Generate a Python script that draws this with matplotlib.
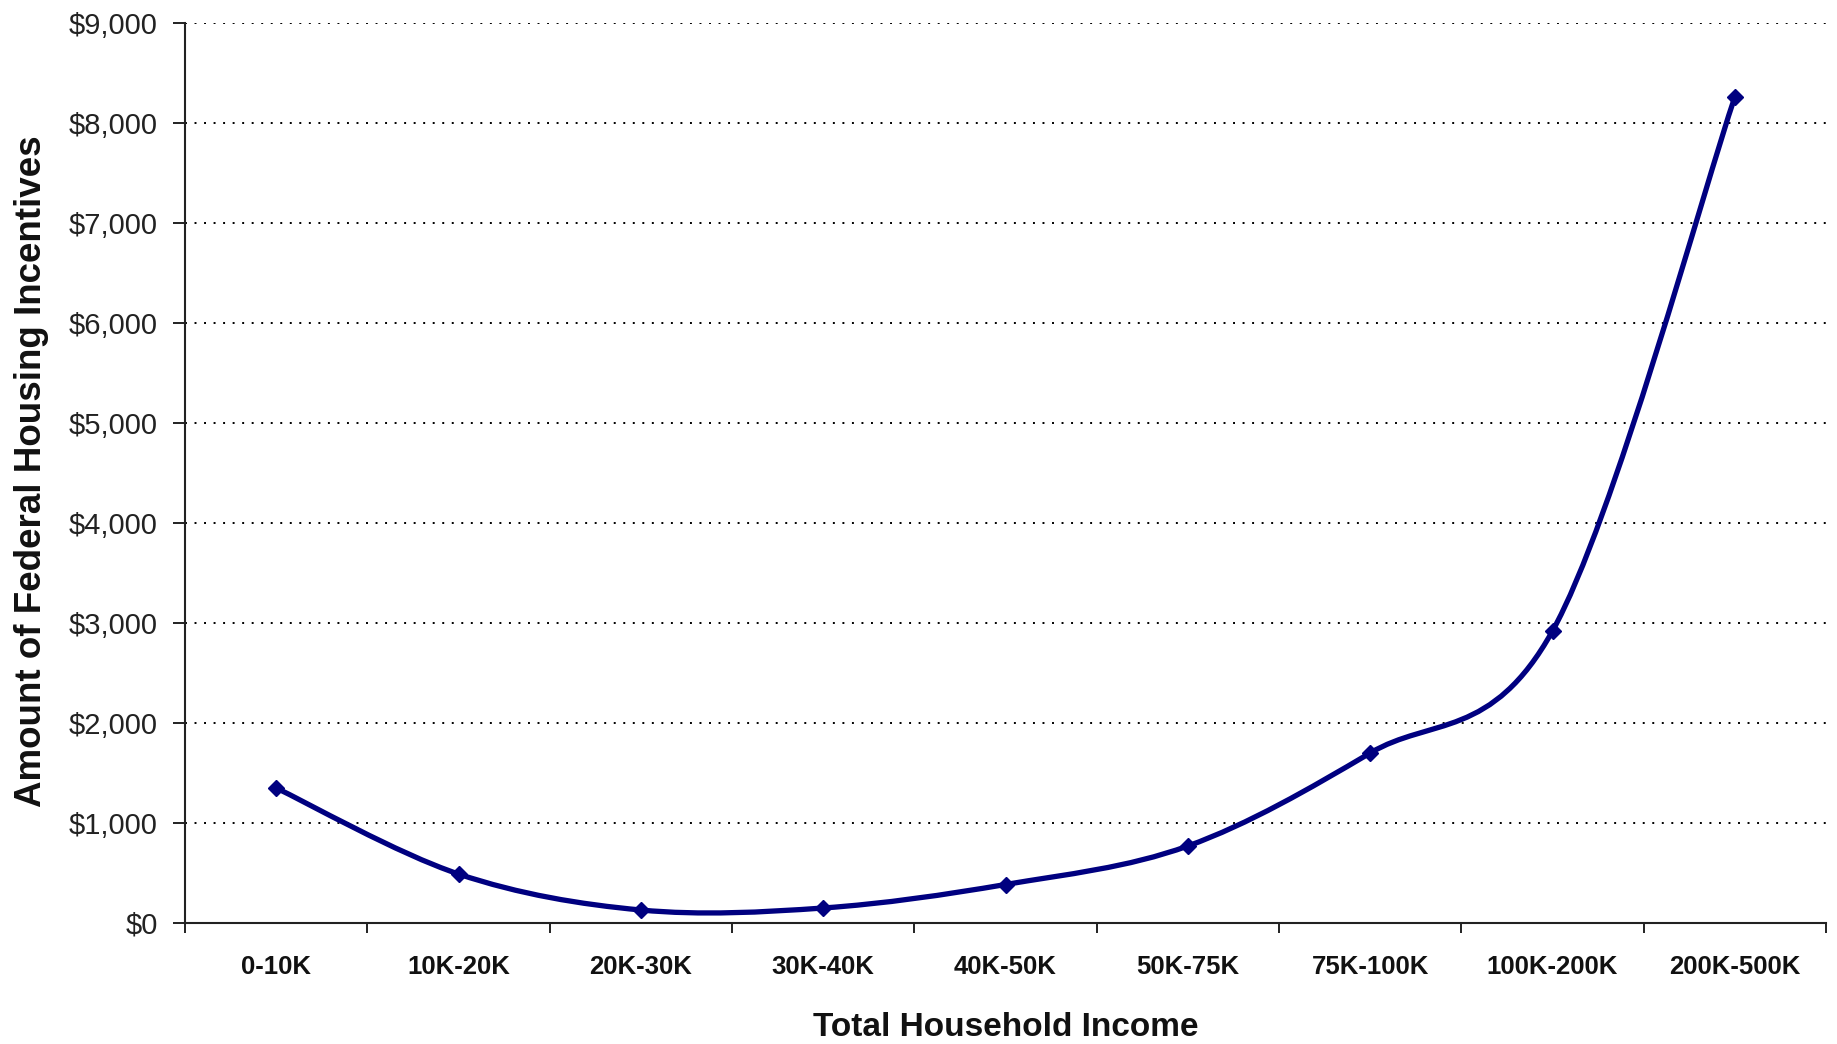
import matplotlib
matplotlib.use("Agg")
import matplotlib.pyplot as plt
from matplotlib.path import Path
from matplotlib.patches import PathPatch
from matplotlib.ticker import FuncFormatter, MultipleLocator, FixedLocator

categories = ["0-10K", "10K-20K", "20K-30K", "30K-40K", "40K-50K",
              "50K-75K", "75K-100K", "100K-200K", "200K-500K"]
incentives = [1350, 490, 130, 150, 385, 770, 1700, 2920, 8260]
x_label = "Total Household Income"
y_label = "Amount of Federal Housing Incentives"

plt.rcParams['font.family'] = ['Liberation Sans', 'DejaVu Sans']

fig = plt.figure(figsize=(18.37, 10.44), dpi=100)
ax = fig.add_axes([185 / 1837, 1 - 923 / 1044, (1826 - 185) / 1837, (923 - 23) / 1044])

xs = list(range(len(categories)))
ys = incentives

# Smoothed line (Bezier segments like a spreadsheet "smoothed line")
verts = [(xs[0], ys[0])]
codes = [Path.MOVETO]
n = len(xs)
for i in range(n - 1):
    p0 = (xs[max(i - 1, 0)], ys[max(i - 1, 0)])
    p1 = (xs[i], ys[i])
    p2 = (xs[i + 1], ys[i + 1])
    p3 = (xs[min(i + 2, n - 1)], ys[min(i + 2, n - 1)])
    c1 = (p1[0] + (p2[0] - p0[0]) / 6, p1[1] + (p2[1] - p0[1]) / 6)
    c2 = (p2[0] - (p3[0] - p1[0]) / 6, p2[1] - (p3[1] - p1[1]) / 6)
    verts += [c1, c2, p2]
    codes += [Path.CURVE4] * 3
patch = PathPatch(Path(verts, codes), fill=False, edgecolor="#000080",
                  linewidth=3.8, capstyle="round", joinstyle="round", zorder=3)
ax.add_patch(patch)
ax.plot(xs, ys, linestyle="none", marker="D", markersize=8.5,
        color="#000080", zorder=4)

ax.set_xlim(-0.5, len(categories) - 0.5)
ax.set_ylim(0, 9000)

# x axis: boundary ticks, labels centred in categories
ax.xaxis.set_major_locator(FixedLocator([i - 0.5 for i in range(len(categories) + 1)]))
ax.xaxis.set_major_formatter(FuncFormatter(lambda v, p: ""))
ax.set_xticks(xs, minor=True)
ax.set_xticklabels(categories, minor=True, fontsize=18.5, fontweight="bold")
ax.tick_params(axis="x", which="major", direction="out", length=7.2, width=1.4, color="#222222")
ax.tick_params(axis="x", which="minor", length=0, pad=23, colors="#111111")

# y axis
ax.yaxis.set_major_locator(MultipleLocator(1000))
ax.yaxis.set_major_formatter(FuncFormatter(lambda v, p: "${:,.0f}".format(v)))
ax.tick_params(axis="y", direction="out", length=8.6, width=1.4, pad=11,
               labelsize=21, color="#222222", labelcolor="#222222")

for s in ["top", "right"]:
    ax.spines[s].set_visible(False)
for s in ["left", "bottom"]:
    ax.spines[s].set_linewidth(1.5)
    ax.spines[s].set_color("#222222")

ax.yaxis.grid(True, color="#000000", linewidth=1.4, linestyle=(0, (1, 3.9)))
ax.set_axisbelow(True)

ax.set_xlabel(x_label, fontsize=24, fontweight="bold", color="#111111")
ax.xaxis.set_label_coords(0.5, (923 - 1028) / 900)
ax.xaxis.label.set_va("center")
ax.set_ylabel(y_label, fontsize=26.5, fontweight="bold", color="#111111")
ax.yaxis.set_label_coords((32 - 185) / 1641, 0.502)
ax.yaxis.label.set_va("center")

fig.savefig("out.png", dpi=100, facecolor="white")
